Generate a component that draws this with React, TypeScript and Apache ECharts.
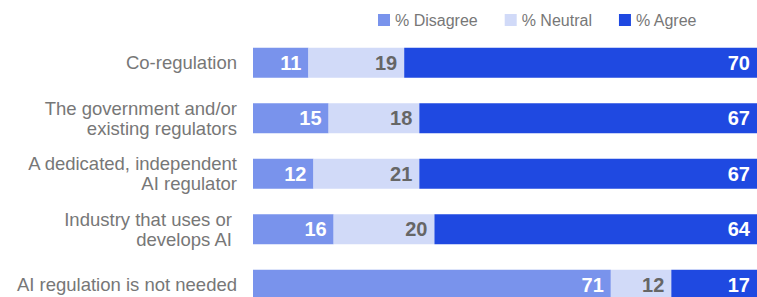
import React, { useEffect, useRef } from "react";
import * as echarts from "echarts";

const categories = [
  "Co-regulation",
  "The government and/or\nexisting regulators",
  "A dedicated, independent\nAI regulator",
  "Industry that uses or \ndevelops AI ",
  "AI regulation is not needed",
];
const disagree = [11, 15, 12, 16, 71];
const neutral = [19, 18, 21, 20, 12];
const agree = [70, 67, 67, 64, 17];

const FONT = "'Liberation Sans', Arial, Helvetica, sans-serif";

export default function App() {
  const ref = useRef<HTMLDivElement>(null);
  useEffect(() => {
    if (!ref.current) return;
    const chart = echarts.init(ref.current, undefined, { renderer: "svg" });
    const label = (color: string) => ({
      show: true,
      position: "insideRight" as const,
      distance: 7,
      color,
      fontFamily: FONT,
      fontWeight: "bold" as const,
      fontSize: 20,
    });
    chart.setOption({
      animation: false,
      textStyle: { fontFamily: FONT },
      legend: {
        left: 373,
        top: 7,
        itemWidth: 12,
        itemHeight: 12,
        itemGap: 27,
        icon: "rect",
        textStyle: { color: "#777", fontSize: 16, fontFamily: FONT },
        data: ["% Disagree", "% Neutral", "% Agree"],
      },
      grid: { left: 253, top: 35, right: 0, height: 277.5, containLabel: false },
      xAxis: {
        type: "value",
        min: 0,
        max: 100,
        show: false,
      },
      yAxis: {
        type: "category",
        data: categories,
        inverse: true,
        axisLine: { show: false },
        axisTick: { show: false },
        axisLabel: {
          color: "#777",
          fontSize: 18.5,
          fontFamily: FONT,
          margin: 16,
          lineHeight: 20,
        },
      },
      series: [
        {
          name: "% Disagree",
          type: "bar",
          stack: "s",
          barWidth: 30,
          data: disagree,
          itemStyle: { color: "#7993EC" },
          label: label("#ffffff"),
        },
        {
          name: "% Neutral",
          type: "bar",
          stack: "s",
          barWidth: 30,
          data: neutral,
          itemStyle: { color: "#D1DAF8" },
          label: label("#666666"),
        },
        {
          name: "% Agree",
          type: "bar",
          stack: "s",
          barWidth: 30,
          data: agree,
          itemStyle: { color: "#1F49E1" },
          label: label("#ffffff"),
        },
      ],
    });
    return () => chart.dispose();
  }, []);
  return (
    <div style={{ width: 757, height: 297, position: "absolute", left: 0, top: 0, overflow: "hidden" }}>
      <div ref={ref} style={{ width: 757, height: 313 }} />
    </div>
  );
}
